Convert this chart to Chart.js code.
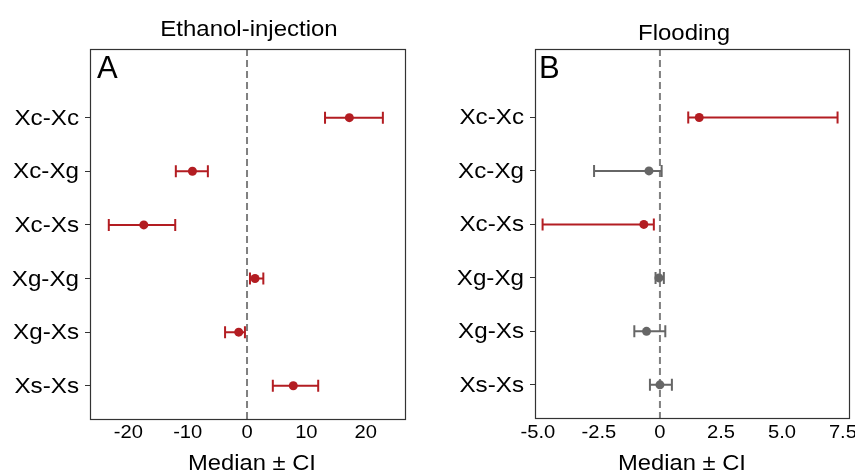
<!DOCTYPE html>
<html>
<head>
<meta charset="utf-8">
<script src="https://cdn.jsdelivr.net/npm/chart.js@4.4.1/dist/chart.umd.min.js"></script>
<style>
    html, body { margin: 0; padding: 0; background: #ffffff; }
    .panel { position: absolute; top: 0; height: 473px; }
    #panel-a { left: 0; width: 428px; }
    #panel-b { left: 428px; width: 427px; }
</style>
</head>
<body>
<div class="panel" id="panel-a"><canvas id="chart-a"></canvas></div>
<div class="panel" id="panel-b"><canvas id="chart-b"></canvas></div>
<script>
// data start
const rowLabels = ["Xc-Xc", "Xc-Xg", "Xc-Xs", "Xg-Xg", "Xg-Xs", "Xs-Xs"];

// Ethanol-injection (median and CI bounds)
const ethMedian = [17.25, -9.2, -17.4, 1.35, -1.4, 7.8];
const ethLower = [13.15, -12.0, -23.3, 0.5, -3.7, 4.35];
const ethUpper = [22.9, -6.6, -12.1, 2.75, -0.35, 12.0];
const ethTicks = [-20, -10, 0, 10, 20];

// Flooding (median and CI bounds)
const floodMedian = [1.61, -0.45, -0.66, -0.04, -0.55, 0.0];
const floodLower = [1.16, -2.7, -4.81, -0.18, -1.05, -0.41];
const floodUpper = [7.28, 0.07, -0.25, 0.16, 0.22, 0.49];
const floodTicks = [-5, -2.5, 0, 2.5, 5, 7.5];
// data end

const red = "#b31d22";
const grey = "#666666";
const fontFamily = "'Liberation Sans', Arial, sans-serif";

// draw text stretched sideways (reference font is wider than Arial)
function wideText(ctx, text, x, y, align, sx, size) {
    ctx.save();
    ctx.translate(x, y);
    ctx.scale(sx, 1);
    ctx.font = `${size}px ${fontFamily}`;
    ctx.fillStyle = "#000000";
    ctx.textAlign = align;
    ctx.textBaseline = "alphabetic";
    ctx.fillText(text, 0, 0);
    ctx.restore();
}

function makePanel(canvasId, opt) {
    const n = rowLabels.length;
    const points = rowLabels.map((r, i) => ({ x: opt.median[i], y: n - i }));
    // red when CI does not cross zero
    const colors = rowLabels.map((r, i) =>
        opt.lower[i] > 0 || opt.upper[i] < 0 ? red : grey
    );

    // zero line and CI whiskers
    const errorBars = {
        id: "errorBars",
        beforeDatasetsDraw(chart) {
            const { ctx, chartArea, scales } = chart;
            const x0 = scales.x.getPixelForValue(0);
            ctx.save();
            ctx.strokeStyle = "#808080";
            ctx.lineWidth = 2;
            ctx.setLineDash([7, 4]);
            ctx.beginPath();
            ctx.moveTo(x0, chartArea.top);
            ctx.lineTo(x0, chartArea.bottom);
            ctx.stroke();
            ctx.setLineDash([]);

            for (let i = 0; i < n; i++) {
                const py = scales.y.getPixelForValue(n - i);
                const lo = scales.x.getPixelForValue(opt.lower[i]);
                const hi = scales.x.getPixelForValue(opt.upper[i]);
                ctx.strokeStyle = colors[i];
                ctx.lineWidth = 2;
                ctx.beginPath();
                ctx.moveTo(lo, py);
                ctx.lineTo(hi, py);
                ctx.moveTo(lo, py - 6);
                ctx.lineTo(lo, py + 6);
                ctx.moveTo(hi, py - 6);
                ctx.lineTo(hi, py + 6);
                ctx.stroke();
            }
            ctx.restore();
        },
    };

    // box, titles, tick labels
    const decor = {
        id: "decor",
        afterDraw(chart) {
            const { ctx, chartArea, scales } = chart;
            ctx.save();
            ctx.strokeStyle = "#333333";
            ctx.lineWidth = 1.2;
            ctx.strokeRect(
                Math.round(chartArea.left) - 0.5,
                Math.round(chartArea.top) + 0.5,
                Math.round(chartArea.right - chartArea.left),
                Math.round(chartArea.bottom - chartArea.top)
            );
            ctx.restore();

            scales.x.ticks.forEach((t) => {
                const px = scales.x.getPixelForValue(t.value);
                wideText(ctx, opt.fmt(t.value), px, 438, "center", 1.12, 18);
            });
            scales.y.ticks.forEach((t) => {
                const py = scales.y.getPixelForValue(t.value);
                wideText(ctx, rowLabels[n - t.value], chartArea.left - 12, py + 7, "right", 1.1, 22);
            });

            wideText(ctx, opt.title, opt.titleX, opt.titleY, "center", 1.09, 22);
            wideText(ctx, "Median \u00b1 CI", opt.xTitleX, 470, "center", 1.08, 22);
            wideText(ctx, opt.letter, opt.letterX, 78, "left", 1, 31);
        },
    };

    return new Chart(document.getElementById(canvasId), {
        type: "scatter",
        data: {
            datasets: [
                {
                    data: points,
                    pointRadius: 4.5,
                    pointHoverRadius: 4.5,
                    pointBackgroundColor: colors,
                    pointBorderColor: colors,
                    pointBorderWidth: 0,
                },
            ],
        },
        options: {
            responsive: true,
            maintainAspectRatio: false,
            animation: false,
            events: [],
            layout: {
                autoPadding: false,
                padding: { top: 49, right: opt.padRight, left: 0, bottom: 0 },
            },
            plugins: {
                legend: { display: false },
                tooltip: { enabled: false },
            },
            scales: {
                x: {
                    type: "linear",
                    min: opt.xMin,
                    max: opt.xMax,
                    afterBuildTicks: (s) => {
                        s.ticks = opt.ticks.map((v) => ({ value: v }));
                    },
                    afterFit: (s) => {
                        s.height = opt.xHeight;
                    },
                    ticks: { display: false },
                    grid: { display: false },
                    border: { display: false },
                },
                y: {
                    type: "linear",
                    min: 0.38,
                    max: 7.28,
                    afterBuildTicks: (s) => {
                        s.ticks = rowLabels.map((r, i) => ({ value: n - i }));
                    },
                    afterFit: (s) => {
                        s.width = opt.yWidth;
                    },
                    ticks: { display: false },
                    grid: {
                        display: true,
                        drawOnChartArea: false,
                        drawTicks: true,
                        tickLength: 6,
                        tickColor: "#333333",
                        tickWidth: 1,
                    },
                    border: { display: false },
                },
            },
        },
        plugins: [errorBars, decor],
    });
}

makePanel("chart-a", {
    median: ethMedian,
    lower: ethLower,
    upper: ethUpper,
    ticks: ethTicks,
    fmt: (v) => String(v),
    xMin: -26.3,
    xMax: 26.8,
    yWidth: 91,
    xHeight: 54,
    padRight: 22,
    title: "Ethanol-injection",
    titleX: 249,
    titleY: 36,
    xTitleX: 252,
    letter: "A",
    letterX: 97,
});

makePanel("chart-b", {
    median: floodMedian,
    lower: floodLower,
    upper: floodUpper,
    ticks: floodTicks,
    fmt: (v) => (v === 0 ? "0" : v.toFixed(1)),
    xMin: -5.08,
    xMax: 7.79,
    yWidth: 108,
    xHeight: 55,
    padRight: 5,
    title: "Flooding",
    titleX: 256,
    titleY: 39.5,
    xTitleX: 254,
    letter: "B",
    letterX: 111,
});
</script>
</body>
</html>
